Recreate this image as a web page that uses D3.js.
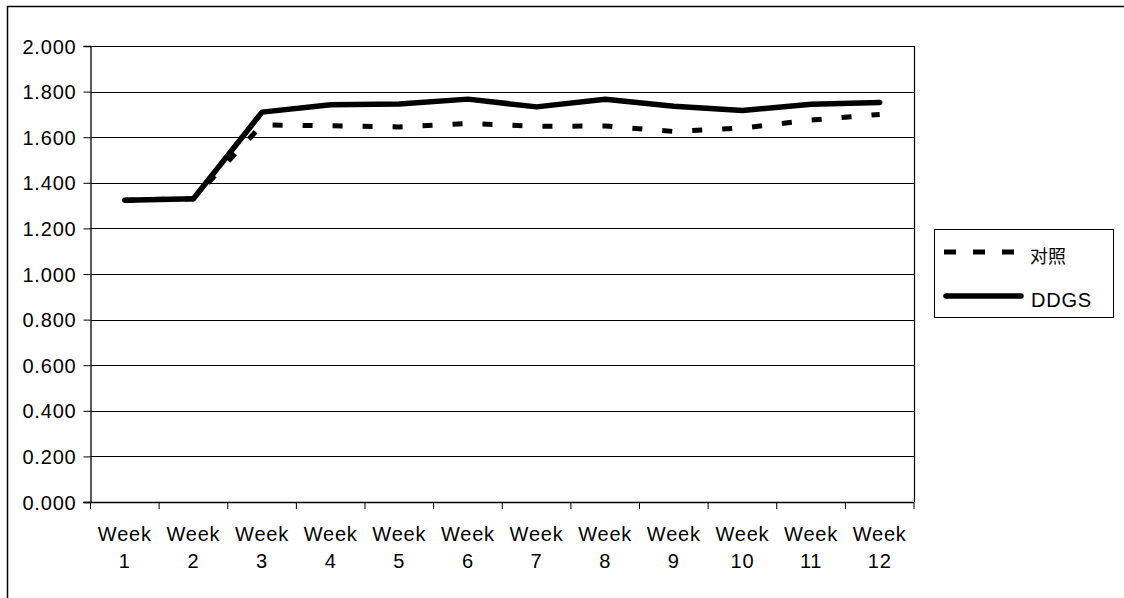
<!DOCTYPE html>
<html><head><meta charset="utf-8">
<script src="https://cdn.jsdelivr.net/npm/d3@7"></script>
<style>
html,body{margin:0;padding:0;background:#fff;}
svg{display:block;}
text{font-family:"Liberation Sans",Arial,Helvetica,sans-serif;fill:#000;}
</style></head>
<body>
<svg id="chart" width="1124" height="598"></svg>
<script>
const categories = ["Week 1","Week 2","Week 3","Week 4","Week 5","Week 6","Week 7","Week 8","Week 9","Week 10","Week 11","Week 12"];
const controlValues = [1.324, 1.330, 1.654, 1.650, 1.645, 1.660, 1.648, 1.649, 1.625, 1.640, 1.675, 1.700];
const ddgsValues = [1.324, 1.330, 1.710, 1.742, 1.746, 1.767, 1.733, 1.766, 1.736, 1.717, 1.745, 1.752];
const yTicks = [0, 0.2, 0.4, 0.6, 0.8, 1.0, 1.2, 1.4, 1.6, 1.8, 2.0];
const seriesNames = ["对照", "DDGS"];

const svg = d3.select("#chart");
// outer frame
svg.append("rect").attr("x",7.5).attr("y",6.5).attr("width",1200).attr("height",700)
  .attr("fill","none").attr("stroke","#000").attr("stroke-width",1.5);

const L = 90.5, R = 914, T = 46, B = 502;
const x = d3.scaleBand().domain(categories).range([L, R]).paddingInner(0).paddingOuter(0);
const y = d3.scaleLinear().domain([0, 2]).range([B, T]);

const FS = "20px", LS = "0.8px";

// gridlines
svg.append("g").selectAll("line").data(yTicks).join("line")
  .attr("x1", L).attr("x2", R)
  .attr("y1", d => Math.round(y(d)) + 0.5).attr("y2", d => Math.round(y(d)) + 0.5)
  .attr("stroke", "#000").attr("stroke-width", 1);
// right border of plot
svg.append("line").attr("x1", R + 0.5).attr("x2", R + 0.5).attr("y1", T).attr("y2", B)
  .attr("stroke", "#000").attr("stroke-width", 1.2);

// y axis
const yAxis = d3.axisLeft(y).tickValues(yTicks).tickFormat(d3.format(".3f")).tickSize(7).tickPadding(7);
const gy = svg.append("g").attr("transform", `translate(${L},0)`).call(yAxis);
gy.select(".domain").attr("stroke", "#000").attr("stroke-width", 1.3);
gy.selectAll(".tick line").attr("stroke", "#000");
gy.selectAll(".tick text").style("font-size", FS).style("letter-spacing", LS)
  .style("font-family", '"Liberation Sans",Arial,sans-serif').attr("fill","#000").attr("dy","0.35em");

// x axis: ticks at band boundaries
const xg = svg.append("g");
xg.append("line").attr("x1", L - 7).attr("x2", R).attr("y1", B + 0.5).attr("y2", B + 0.5)
  .attr("stroke", "#000").attr("stroke-width", 1.3);
const bounds = categories.map(c => x(c)).concat([x(categories[categories.length-1]) + x.bandwidth()]);
xg.selectAll("line.tk").data(bounds).join("line").attr("class","tk")
  .attr("x1", d => d).attr("x2", d => d).attr("y1", B).attr("y2", B + 7)
  .attr("stroke", "#000").attr("stroke-width", 1);
const lbl = xg.selectAll("text.lb").data(categories).join("text").attr("class","lb")
  .attr("text-anchor", "middle").style("font-size", FS).style("letter-spacing", LS);
lbl.append("tspan").attr("x", d => x(d) + x.bandwidth()/2).attr("y", 541).text(d => d.split(" ")[0]);
lbl.append("tspan").attr("x", d => x(d) + x.bandwidth()/2).attr("y", 568).text(d => d.split(" ")[1]);

const line = d3.line().x((d, i) => x(categories[i]) + x.bandwidth()/2).y(d => y(d));

svg.append("path").datum(controlValues).attr("d", line)
  .attr("fill", "none").attr("stroke", "#000").attr("stroke-width", 5)
  .attr("stroke-dasharray", "10,20").attr("stroke-linecap", "butt");
svg.append("path").datum(ddgsValues).attr("d", line)
  .attr("fill", "none").attr("stroke", "#000").attr("stroke-width", 5.5)
  .attr("stroke-linecap", "round").attr("stroke-linejoin", "round");

// legend
const lg = svg.append("g");
lg.append("rect").attr("x", 934.5).attr("y", 229.5).attr("width", 179).attr("height", 88)
  .attr("fill", "#fff").attr("stroke", "#000").attr("stroke-width", 1);
lg.append("line").attr("x1", 944).attr("x2", 1017).attr("y1", 252).attr("y2", 252)
  .attr("stroke", "#000").attr("stroke-width", 5).attr("stroke-dasharray", "12,17");
lg.append("line").attr("x1", 946).attr("x2", 1021).attr("y1", 296).attr("y2", 296)
  .attr("stroke", "#000").attr("stroke-width", 5.5).attr("stroke-linecap", "round");
lg.append("text").attr("x", 1030).attr("y", 263).text(seriesNames[0])
  .style("font-family", '"Noto Sans CJK SC","Noto Sans CJK JP",sans-serif').style("font-size", "18px");
lg.append("text").attr("x", 1031).attr("y", 307).text(seriesNames[1]).style("font-size", FS).style("letter-spacing", LS);
</script>
</body></html>
